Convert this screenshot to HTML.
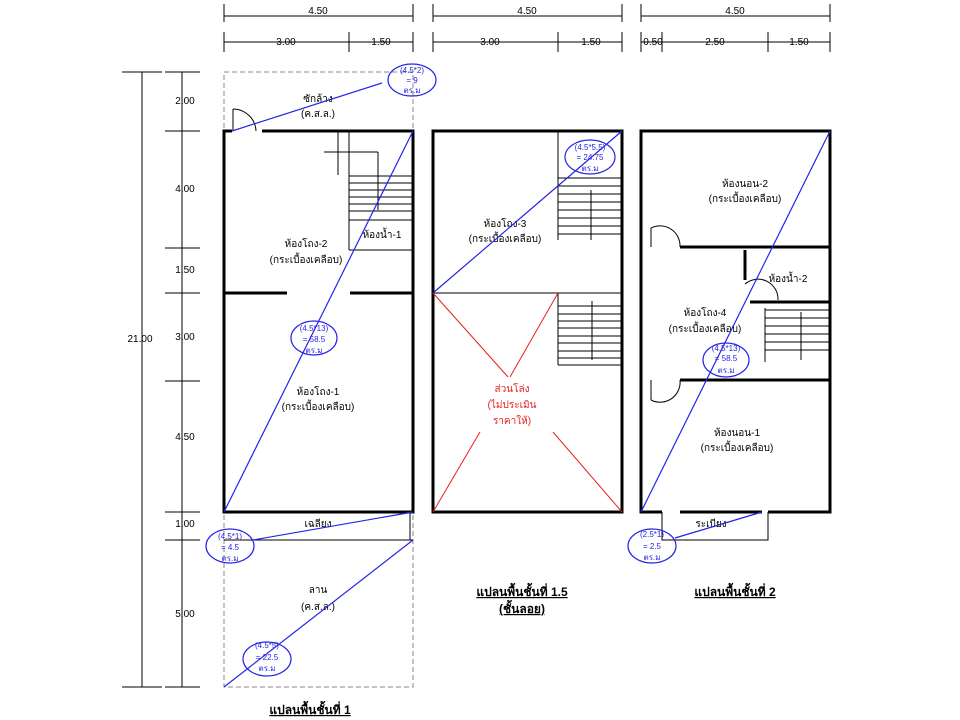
<!DOCTYPE html>
<html><head><meta charset="utf-8"><style>
body{margin:0;background:#fff}
svg{display:block}
text{font-family:"Liberation Sans","Noto Sans CJK SC",sans-serif;font-size:10px;fill:#000;text-anchor:middle}
.b{stroke:#2424e8;fill:none;stroke-width:1.2}
.bt{fill:#2424e8;font-size:8px}
.w{stroke:#000;stroke-width:3;fill:none}
.t{stroke:#000;stroke-width:1;fill:none}
.r{stroke:#e82020;stroke-width:1}
.h{font-weight:bold;font-size:12px;text-decoration:underline}
</style></head><body>
<svg width="960" height="720" viewBox="0 0 960 720">
<g class="t">
<line x1="224" y1="16" x2="413" y2="16"/><line x1="224" y1="4" x2="224" y2="22"/><line x1="413" y1="4" x2="413" y2="22"/>
<line x1="224" y1="42" x2="413" y2="42"/><line x1="224" y1="32" x2="224" y2="52"/><line x1="349" y1="32" x2="349" y2="52"/><line x1="413" y1="32" x2="413" y2="52"/>
<line x1="433" y1="16" x2="622" y2="16"/><line x1="433" y1="4" x2="433" y2="22"/><line x1="622" y1="4" x2="622" y2="22"/>
<line x1="433" y1="42" x2="622" y2="42"/><line x1="433" y1="32" x2="433" y2="52"/><line x1="558" y1="32" x2="558" y2="52"/><line x1="622" y1="32" x2="622" y2="52"/>
<line x1="641" y1="16" x2="830" y2="16"/><line x1="641" y1="4" x2="641" y2="22"/><line x1="830" y1="4" x2="830" y2="22"/>
<line x1="641" y1="42" x2="830" y2="42"/><line x1="641" y1="32" x2="641" y2="52"/><line x1="662" y1="32" x2="662" y2="52"/><line x1="768" y1="32" x2="768" y2="52"/><line x1="830" y1="32" x2="830" y2="52"/>
<line x1="142" y1="72" x2="142" y2="687"/><line x1="122" y1="72" x2="162" y2="72"/><line x1="122" y1="687" x2="162" y2="687"/>
<line x1="182" y1="72" x2="182" y2="687"/>
<line x1="165" y1="72" x2="200" y2="72"/><line x1="165" y1="131" x2="200" y2="131"/><line x1="165" y1="248" x2="200" y2="248"/><line x1="165" y1="293" x2="200" y2="293"/><line x1="165" y1="381" x2="200" y2="381"/><line x1="165" y1="512" x2="200" y2="512"/><line x1="165" y1="540" x2="200" y2="540"/><line x1="165" y1="687" x2="200" y2="687"/>
</g>
<text x="318" y="14">4.50</text><text x="286" y="45">3.00</text><text x="381" y="45">1.50</text>
<text x="527" y="14">4.50</text><text x="490" y="45">3.00</text><text x="591" y="45">1.50</text>
<text x="735" y="14">4.50</text><text x="653" y="45">0.50</text><text x="715" y="45">2.50</text><text x="799" y="45">1.50</text>
<text x="140" y="342">21.00</text>
<text x="185" y="104">2.00</text><text x="185" y="192">4.00</text><text x="185" y="273">1.50</text><text x="185" y="340">3.00</text><text x="185" y="440">4.50</text><text x="185" y="527">1.00</text><text x="185" y="617">5.00</text>

<rect x="224" y="72" width="189" height="615" fill="none" stroke="#888" stroke-dasharray="5,3"/>
<g class="w"><polyline points="262,131 413,131 413,512 224,512 224,131 232,131"/>
<line x1="224" y1="293" x2="287" y2="293"/><line x1="350" y1="293" x2="413" y2="293"/></g>
<g class="t">
<line x1="233" y1="131" x2="233" y2="109"/><path d="M233,109 A23,23 0 0 1 256,131"/>
<line x1="338" y1="131" x2="338" y2="175"/><line x1="349" y1="131" x2="349" y2="250"/><line x1="349" y1="250" x2="413" y2="250"/>
<line x1="324" y1="152" x2="378" y2="152"/><line x1="378" y1="152" x2="378" y2="210"/>
<line x1="349" y1="176" x2="413" y2="176"/><line x1="349" y1="183" x2="413" y2="183"/><line x1="349" y1="190" x2="413" y2="190"/><line x1="349" y1="197" x2="413" y2="197"/><line x1="349" y1="204" x2="413" y2="204"/><line x1="349" y1="211" x2="413" y2="211"/><line x1="349" y1="220" x2="413" y2="220"/>
<line x1="224" y1="540" x2="413" y2="540"/><line x1="410" y1="512" x2="410" y2="540"/>
</g>
<text x="318" y="102">ซักล้าง</text><text x="318" y="117">(ค.ส.ล.)</text>
<text x="382" y="238">ห้องน้ำ-1</text>
<text x="306" y="247">ห้องโถง-2</text><text x="306" y="263">(กระเบื้องเคลือบ)</text>
<text x="318" y="395">ห้องโถง-1</text><text x="318" y="410">(กระเบื้องเคลือบ)</text>
<text x="318" y="527">เฉลียง</text>
<text x="318" y="593">ลาน</text><text x="318" y="610">(ค.ส.ล.)</text>
<text x="310" y="714" class="h">แปลนพื้นชั้นที่ 1</text>

<g class="w"><rect x="433" y="131" width="189" height="381"/></g>
<g class="t">
<line x1="433" y1="293" x2="622" y2="293"/>
<line x1="558" y1="131" x2="558" y2="240"/><line x1="558" y1="293" x2="558" y2="365"/>
<line x1="558" y1="178" x2="622" y2="178"/><line x1="558" y1="186" x2="622" y2="186"/><line x1="558" y1="194" x2="622" y2="194"/><line x1="558" y1="202" x2="622" y2="202"/><line x1="558" y1="210" x2="622" y2="210"/><line x1="558" y1="218" x2="622" y2="218"/><line x1="558" y1="226" x2="622" y2="226"/><line x1="558" y1="234" x2="622" y2="234"/>
<line x1="591" y1="190" x2="591" y2="240"/>
<line x1="558" y1="306" x2="622" y2="306"/><line x1="558" y1="314" x2="622" y2="314"/><line x1="558" y1="321" x2="622" y2="321"/><line x1="558" y1="328" x2="622" y2="328"/><line x1="558" y1="336" x2="622" y2="336"/><line x1="558" y1="343" x2="622" y2="343"/><line x1="558" y1="351" x2="622" y2="351"/><line x1="558" y1="358" x2="622" y2="358"/><line x1="558" y1="365" x2="622" y2="365"/>
<line x1="592" y1="301" x2="592" y2="360"/>
</g>
<line class="r" x1="433" y1="293" x2="508" y2="377"/><line class="r" x1="558" y1="293" x2="510" y2="377"/>
<line class="r" x1="480" y1="432" x2="433" y2="512"/><line class="r" x1="553" y1="432" x2="622" y2="512"/>
<text x="505" y="227">ห้องโถง-3</text><text x="505" y="242">(กระเบื้องเคลือบ)</text>
<text x="512" y="392" style="fill:#e82020">ส่วนโล่ง</text><text x="512" y="408" style="fill:#e82020">(ไม่ประเมิน</text><text x="512" y="424" style="fill:#e82020">ราคาให้)</text>
<text x="522" y="596" class="h">แปลนพื้นชั้นที่ 1.5</text><text x="522" y="613" class="h">(ชั้นลอย)</text>

<g class="w"><polyline points="662,512 641,512 641,131 830,131 830,512 768,512"/><line x1="680" y1="512" x2="762" y2="512"/>
<line x1="680" y1="247" x2="830" y2="247"/><line x1="680" y1="380" x2="830" y2="380"/><line x1="745" y1="250" x2="745" y2="280"/><line x1="750" y1="302" x2="830" y2="302"/></g>
<g class="t">
<path d="M651,228 A20,20 0 0 1 680,247"/><line x1="651" y1="228" x2="651" y2="247"/>
<path d="M651,400 A20,20 0 0 0 680,380"/><line x1="651" y1="380" x2="651" y2="400"/>
<path d="M745,284 A20,20 0 0 1 778,300"/>
<line x1="765" y1="308" x2="765" y2="362"/><line x1="765" y1="310" x2="830" y2="310"/><line x1="765" y1="318" x2="830" y2="318"/><line x1="765" y1="326" x2="830" y2="326"/><line x1="765" y1="334" x2="830" y2="334"/><line x1="765" y1="342" x2="830" y2="342"/><line x1="765" y1="350" x2="830" y2="350"/>
<line x1="801" y1="312" x2="801" y2="360"/>
<polyline points="662,512 662,540 768,540 768,512"/>
</g>
<text x="745" y="187">ห้องนอน-2</text><text x="745" y="202">(กระเบื้องเคลือบ)</text>
<text x="788" y="282">ห้องน้ำ-2</text>
<text x="705" y="316">ห้องโถง-4</text><text x="705" y="332">(กระเบื้องเคลือบ)</text>
<text x="737" y="436">ห้องนอน-1</text><text x="737" y="451">(กระเบื้องเคลือบ)</text>
<text x="711" y="527">ระเบียง</text>
<text x="735" y="596" class="h">แปลนพื้นชั้นที่ 2</text>

<line class="b" x1="232" y1="131" x2="382" y2="83"/><ellipse class="b" cx="412" cy="80" rx="24" ry="16"/>
<text class="bt" x="412" y="73">(4.5*2)</text><text class="bt" x="412" y="83">= 9</text><text class="bt" x="412" y="93">ตร.ม</text>
<line class="b" x1="224" y1="512" x2="413" y2="131"/><ellipse class="b" cx="314" cy="338" rx="23" ry="17"/>
<text class="bt" x="314" y="331">(4.5*13)</text><text class="bt" x="314" y="342">= 58.5</text><text class="bt" x="314" y="353">ตร.ม</text>
<line class="b" x1="253" y1="540" x2="413" y2="512"/><ellipse class="b" cx="230" cy="546" rx="24" ry="17"/>
<text class="bt" x="230" y="539">(4.5*1)</text><text class="bt" x="230" y="550">= 4.5</text><text class="bt" x="230" y="561">ตร.ม</text>
<line class="b" x1="224" y1="687" x2="413" y2="540"/><ellipse class="b" cx="267" cy="659" rx="24" ry="17"/>
<text class="bt" x="267" y="648">(4.5*5)</text><text class="bt" x="267" y="660">= 22.5</text><text class="bt" x="267" y="671">ตร.ม</text>
<line class="b" x1="433" y1="293" x2="622" y2="131"/><ellipse class="b" cx="590" cy="157" rx="25" ry="17"/>
<text class="bt" x="590" y="150">(4.5*5.5)</text><text class="bt" x="590" y="160">= 24.75</text><text class="bt" x="590" y="171">ตร.ม</text>
<line class="b" x1="641" y1="512" x2="830" y2="131"/><ellipse class="b" cx="726" cy="360" rx="23" ry="17"/>
<text class="bt" x="726" y="351">(4.5*13)</text><text class="bt" x="726" y="361">= 58.5</text><text class="bt" x="726" y="373">ตร.ม</text>
<line class="b" x1="675" y1="538" x2="762" y2="512"/><ellipse class="b" cx="652" cy="546" rx="24" ry="17"/>
<text class="bt" x="652" y="537">(2.5*1)</text><text class="bt" x="652" y="549">= 2.5</text><text class="bt" x="652" y="560">ตร.ม</text>
</svg>
</body></html>
